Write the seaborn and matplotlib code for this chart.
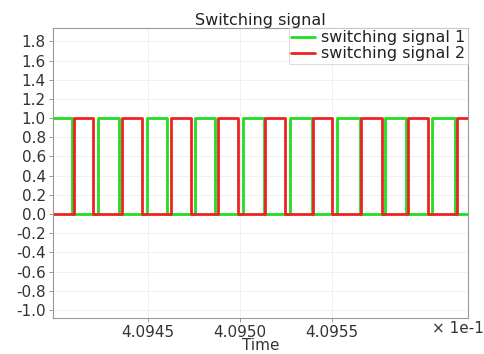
import matplotlib
matplotlib.use("Agg")
import matplotlib.pyplot as plt
import seaborn as sns
import pandas as pd

# time in units of 1e-1 s
green_t = [4.093984, 4.094087, 4.094228, 4.094342, 4.094495, 4.094603, 4.094755,
           4.094864, 4.095016, 4.095130, 4.095272, 4.095391, 4.095527, 4.095652,
           4.095788, 4.095900, 4.096043, 4.096168, 4.096239]
green_v = [1, 0, 1, 0, 1, 0, 1, 0, 1, 0, 1, 0, 1, 0, 1, 0, 1, 0, 0]

red_t = [4.093984, 4.094098, 4.094201, 4.094359, 4.094467, 4.094625, 4.094734,
         4.094880, 4.094989, 4.095136, 4.095245, 4.095397, 4.095500, 4.095658,
         4.095772, 4.095913, 4.096022, 4.096179, 4.096239]
red_v = [0, 1, 0, 1, 0, 1, 0, 1, 0, 1, 0, 1, 0, 1, 0, 1, 0, 1, 1]

x_ticks = [4.0945, 4.0950, 4.0955]
x_tick_labels = ["4.0945", "4.0950", "4.0955"]
y_ticks = [-1.0, -0.8, -0.6, -0.4, -0.2, 0.0, 0.2, 0.4, 0.6, 0.8, 1.0, 1.2, 1.4, 1.6, 1.8]

sns.set_theme(style="whitegrid")
plt.rcParams['font.family'] = ['DejaVu Sans']

fig = plt.figure(figsize=(4.85, 3.54), dpi=100)
ax = fig.add_axes([0.109, 0.102, 0.856, 0.819])

df1 = pd.DataFrame({"t": green_t, "v": green_v})
df2 = pd.DataFrame({"t": red_t, "v": red_v})
sns.lineplot(data=df1, x="t", y="v", ax=ax, color="#22dd22", linewidth=2,
             drawstyle="steps-post", estimator=None, label="switching signal 1")
sns.lineplot(data=df2, x="t", y="v", ax=ax, color="#ee2222", linewidth=2,
             drawstyle="steps-post", estimator=None, label="switching signal 2")

ax.set_xlim(4.093984, 4.096239)
ax.set_ylim(-1.083, 1.94)
ax.set_xticks(x_ticks)
ax.set_xticklabels(x_tick_labels, fontsize=11, color="#333333")
ax.set_yticks(y_ticks)
ax.set_yticklabels([f"{v:.1f}" for v in y_ticks], fontsize=11, color="#333333")
ax.tick_params(axis="both", which="both", length=3, width=0.6, color="#888888",
               pad=2, bottom=True, left=True)
ax.grid(True, color="#eeeeee", linewidth=0.6)
for s in ax.spines.values():
    s.set_color("#999999")
    s.set_linewidth(0.8)

ax.set_title("Switching signal", fontsize=11.5, pad=2, color="#222222")
ax.set_xlabel("Time", fontsize=11, labelpad=-1, color="#333333")
ax.set_ylabel("")
fig.text(0.998, 0.073, "\u00d7 1e-1", ha="right", va="center", fontsize=11, color="#333333")

leg = ax.legend(loc="upper right", fontsize=11.5, frameon=True, borderaxespad=0,
                handlelength=1.5, handletextpad=0.4, borderpad=0.15, labelspacing=0.05,
                fancybox=False)
leg.get_frame().set_edgecolor("#cccccc")
leg.get_frame().set_linewidth(0.6)
for t in leg.get_texts():
    t.set_color("#222222")

fig.savefig("out.png", dpi=100)
